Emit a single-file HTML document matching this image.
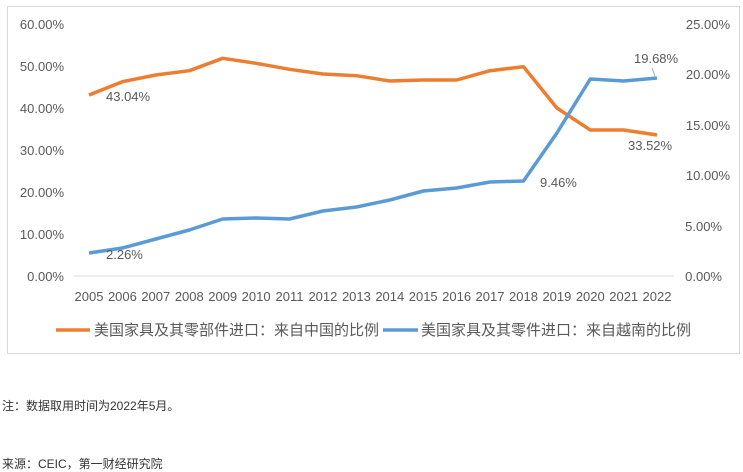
<!DOCTYPE html>
<html><head><meta charset="utf-8"><style>
body{margin:0;width:743px;height:471px;background:#fff;font-family:"Liberation Sans","Noto Sans CJK SC",sans-serif;overflow:hidden}
svg text{font-family:"Liberation Sans","Noto Sans CJK SC",sans-serif;fill:#595959}
.n{position:absolute;left:2px;font-size:12px;color:#333}
</style></head><body>
<svg width="743" height="471" style="position:absolute;left:0;top:0">
<rect x="7.5" y="6.5" width="732" height="347" fill="#fff" stroke="#d9d9d9"/>
<line x1="74" y1="276" x2="674" y2="276" stroke="#d9d9d9"/>
<g font-size="13" text-anchor="end">
<text x="64" y="29">60.00%</text><text x="64" y="71">50.00%</text><text x="64" y="113">40.00%</text><text x="64" y="155">30.00%</text><text x="64" y="197">20.00%</text><text x="64" y="239">10.00%</text><text x="64" y="281">0.00%</text>
</g>
<g font-size="13" text-anchor="end">
<text x="730" y="29">25.00%</text><text x="730" y="79">20.00%</text><text x="730" y="130">15.00%</text><text x="730" y="180">10.00%</text><text x="722" y="231">5.00%</text><text x="722" y="281">0.00%</text>
</g>
<g font-size="13" text-anchor="middle">
<text x="89" y="301">2005</text><text x="122.4" y="301">2006</text><text x="155.8" y="301">2007</text><text x="189.3" y="301">2008</text><text x="222.7" y="301">2009</text><text x="256.1" y="301">2010</text><text x="289.5" y="301">2011</text><text x="322.9" y="301">2012</text><text x="356.4" y="301">2013</text><text x="389.8" y="301">2014</text><text x="423.2" y="301">2015</text><text x="456.6" y="301">2016</text><text x="490" y="301">2017</text><text x="523.5" y="301">2018</text><text x="556.9" y="301">2019</text><text x="590.3" y="301">2020</text><text x="623.7" y="301">2021</text><text x="657" y="301">2022</text>
</g>
<polyline fill="none" stroke="#ed7d31" stroke-width="3.5" stroke-linejoin="round" points="89,95 122.4,81.7 155.8,75 189.3,70.7 222.7,58.3 256.1,63.3 289.5,69.3 322.9,74 356.4,75.7 389.8,81 423.2,80 456.6,80 490,70.7 523.5,66.7 556.9,108 590.3,130 623.7,130 657,135"/>
<polyline fill="none" stroke="#5b9bd5" stroke-width="3.5" stroke-linejoin="round" points="89,253 122.4,248 155.8,239 189.3,230 222.7,219 256.1,218 289.5,219 322.9,211 356.4,207 389.8,200 423.2,191 456.6,188 490,182 523.5,181 556.9,133 590.3,79 623.7,81 657,78"/>
<line x1="655" y1="76" x2="652" y2="68" stroke="#a6a6a6"/>
<g font-size="13" fill="#404040">
<text x="106" y="101">43.04%</text><text x="106" y="259">2.26%</text><text x="540" y="187">9.46%</text><text x="628" y="150">33.52%</text><text x="634" y="63">19.68%</text>
</g>
<line x1="56" y1="330" x2="90" y2="330" stroke="#ed7d31" stroke-width="3.5"/>
<line x1="383" y1="330" x2="418" y2="330" stroke="#5b9bd5" stroke-width="3.5"/>
<g font-size="15"><text x="94" y="335">美国家具及其零部件进口：来自中国的比例</text><text x="421" y="335">美国家具及其零件进口：来自越南的比例</text></g>
</svg>
<div class="n" style="top:397px">注：数据取用时间为2022年5月。</div>
<div class="n" style="top:455px">来源：CEIC，第一财经研究院</div>
</body></html>
